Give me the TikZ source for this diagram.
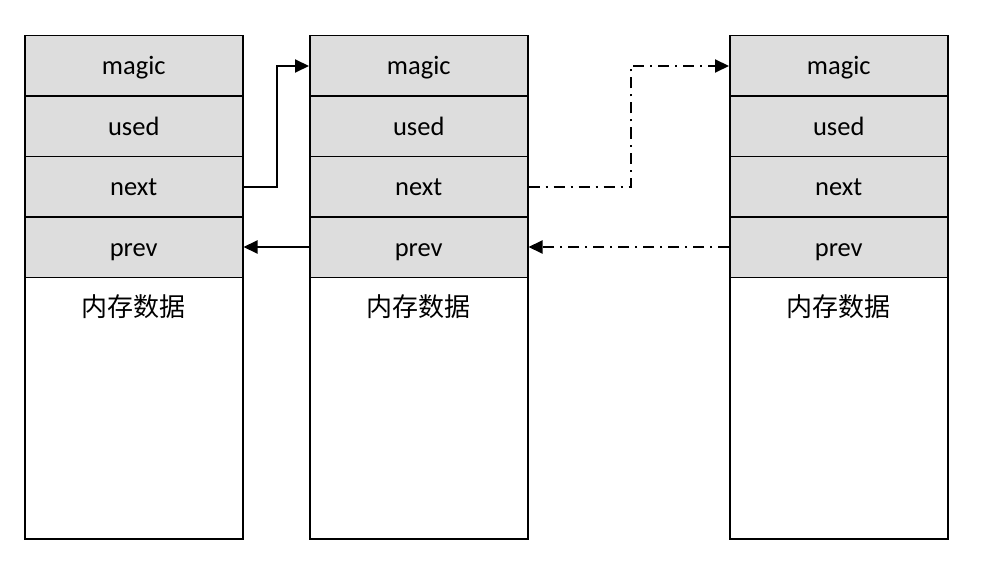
\documentclass[tikz,border=0pt]{standalone}
\usepackage{fontspec}
\setmainfont{Carlito}
\newfontfamily\cjk{Noto Sans CJK SC}
\usetikzlibrary{arrows.meta}
\definecolor{cellgray}{HTML}{DDDDDD}
\tikzset{
  cell/.style={draw, fill=cellgray, line width=1.5pt, anchor=north west, inner sep=0pt,
    minimum width=218pt, minimum height=60.5pt, text height=19.5pt, text depth=1.5pt,
    font=\fontsize{26.5}{30}\selectfont},
  mem/.style={draw, line width=1.5pt, anchor=north west, inner sep=0pt,
    minimum width=218pt, minimum height=262pt},
  memtext/.style={font=\fontsize{26}{30}\selectfont\cjk},
  link/.style={line width=2pt, -{Triangle[length=14pt,width=13pt]}},
  dlink/.style={link, dash pattern=on 11pt off 6pt on 2pt off 6pt}
}
\begin{document}
\begin{tikzpicture}[x=1pt, y=-1pt]
\useasboundingbox (0,0) rectangle (987,567);
% left block
\node[mem] (data1) at (24,276) {};
\node[cell] (magic1) at (24,35) {magic};
\node[cell] (used1) at (24,95.5) {used};
\node[cell] (next1) at (24,155.5) {next};
\node[cell] (prev1) at (24,216) {prev};
\node[memtext] (txt1) at (133,307) {内存数据};
%
% middle block
\node[mem] (data2) at (309,276) {};
\node[cell] (magic2) at (309,35) {magic};
\node[cell] (used2) at (309,95.5) {used};
\node[cell] (next2) at (309,155.5) {next};
\node[cell] (prev2) at (309,216) {prev};
\node[memtext] (txt2) at (418,307) {内存数据};
%
% right block
\node[mem] (data3) at (729,276) {};
\node[cell] (magic3) at (729,35) {magic};
\node[cell] (used3) at (729,95.5) {used};
\node[cell] (next3) at (729,155.5) {next};
\node[cell] (prev3) at (729,216) {prev};
\node[memtext] (txt3) at (838,307) {内存数据};
%
% links
\draw[link] (next1.east) -- ++(33,0) |- (magic2.west);
\draw[link] (prev2.west) -- (prev1.east);
\draw[dlink] (next2.east) -- ++(102,0) |- (magic3.west);
\draw[dlink] (prev3.west) -- (prev2.east);
\end{tikzpicture}
\end{document}
